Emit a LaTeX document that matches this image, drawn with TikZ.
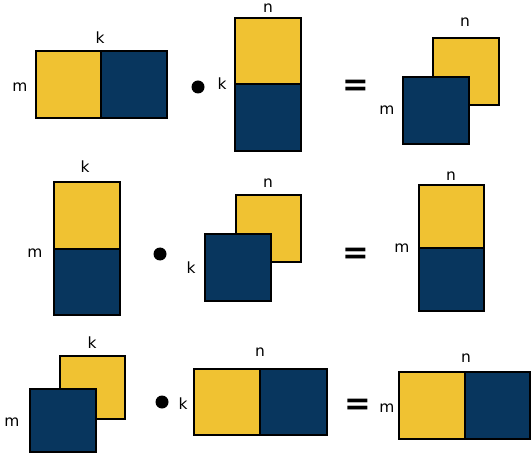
\documentclass[tikz,border=0pt]{standalone}
\usepackage{fontspec}
\setmainfont{DejaVu Sans}
\definecolor{myyellow}{HTML}{F0C232}
\definecolor{myblue}{HTML}{08365E}
\begin{document}
\begin{tikzpicture}[x=1bp,y=-1bp,
  yel/.style={fill=myyellow,draw=black,line width=1.6bp},
  blu/.style={fill=myblue,draw=black,line width=1.6bp},
  lbl/.style={font=\fontsize{15.5}{17}\selectfont,inner sep=0pt},
  eqsign/.style={font=\fontsize{32}{32}\selectfont\bfseries,inner sep=0pt},
  dotmark/.style={circle,fill=black,minimum size=13bp,inner sep=0pt}]
\useasboundingbox (0,0) rectangle (531,453);
% Row 1
\filldraw[yel] (36,51) rectangle (101,118);
\filldraw[blu] (101,51) rectangle (167,118);
\node[lbl] (a1k) at (100,38) {k};
\node[lbl] (a1m) at (20,87) {m};
\node[dotmark] (d1) at (198,87) {};
\node[lbl] (b1k) at (222,84) {k};
\filldraw[yel] (235,18) rectangle (301,84);
\filldraw[blu] (235,84) rectangle (301,151);
\node[lbl] (b1n) at (268,8) {n};
\node[eqsign] (e1) at (356,88) {=};
\filldraw[yel] (433,38) rectangle (499,105);
\filldraw[blu] (403,77) rectangle (469,144);
\node[lbl] (c1n) at (465,22) {n};
\node[lbl] (c1m) at (387,110) {m};
% Row 2
\filldraw[yel] (54,182) rectangle (120,249);
\filldraw[blu] (54,249) rectangle (120,315);
\node[lbl] (a2k) at (85,167) {k};
\node[lbl] (a2m) at (35,253) {m};
\node[dotmark] (d2) at (160,254) {};
\filldraw[yel] (236,195) rectangle (301,262);
\filldraw[blu] (205,234) rectangle (271,301);
\node[lbl] (b2n) at (268,183) {n};
\node[lbl] (b2k) at (191,268) {k};
\node[eqsign] (e2) at (356,256) {=};
\filldraw[yel] (419,185) rectangle (484,248);
\filldraw[blu] (419,248) rectangle (484,311);
\node[lbl] (c2n) at (451,176) {n};
\node[lbl] (c2m) at (402,248) {m};
% Row 3
\filldraw[yel] (60,356) rectangle (125,419);
\filldraw[blu] (30,389) rectangle (96,452);
\node[lbl] (a3k) at (92,343) {k};
\node[lbl] (a3m) at (12,422) {m};
\node[dotmark] (d3) at (162,402) {};
\node[lbl] (b3k) at (183,404) {k};
\filldraw[yel] (194,369) rectangle (260,435);
\filldraw[blu] (260,369) rectangle (327,435);
\node[lbl] (b3n) at (260,352) {n};
\node[eqsign] (e3) at (358,407) {=};
\filldraw[yel] (399,372) rectangle (465,439);
\filldraw[blu] (465,372) rectangle (530,439);
\node[lbl] (c3n) at (466,358) {n};
\node[lbl] (c3m) at (387,408) {m};
\end{tikzpicture}
\end{document}
